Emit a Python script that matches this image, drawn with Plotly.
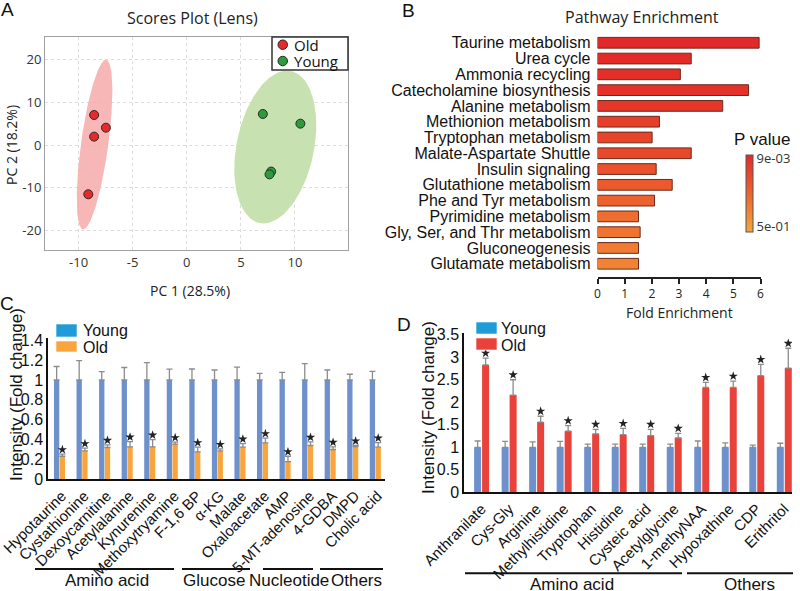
import numpy as np
import plotly.graph_objects as go

W, H = 800, 591
def px(x): return x / W
def py(y): return 1 - y / H

SANS = "Liberation Sans, Arial, sans-serif"
OPEN = "Open Sans, sans-serif"

# ---------------- Panel A data ----------------
old_pc1 = [-8.56, -7.47, -8.56, -9.1]
old_pc2 = [7.0, 4.04, 1.95, -11.5]
young_pc1 = [7.03, 10.5, 7.8, 7.65]
young_pc2 = [7.24, 4.98, -6.2, -6.85]
# ellipse parameters: center x, center y, half-width, half-height, shear (dx/dy)
old_ellipse = [-8.52, 0.08, 1.27, 19.78, 0.053]
young_ellipse = [8.18, -0.47, 3.63, 17.83, 0.061]
a_xticks = [-10, -5, 0, 5, 10]
a_xtick_text = ["-10", "-5", "0", "5", "10"]
a_yticks = [-20, -10, 0, 10, 20]
a_ytick_text = ["-20", "-10", "0", "10", "20"]

# ---------------- Panel B data ----------------
pathways = ["Taurine metabolism", "Urea cycle", "Ammonia recycling",
            "Catecholamine biosynthesis", "Alanine metabolism", "Methionion metabolism",
            "Tryptophan metabolism", "Malate-Aspartate Shuttle", "Insulin signaling",
            "Glutathione metabolism", "Phe and Tyr metabolism", "Pyrimidine metabolism",
            "Gly, Ser, and Thr metabolism", "Gluconeogenesis", "Glutamate metabolism"]
fold_enrichment = [5.95, 3.45, 3.05, 5.56, 4.61, 2.28, 2.01, 3.45, 2.16, 2.75, 2.1, 1.51, 1.57, 1.51, 1.51]
p_values = [0.009, 0.010, 0.011, 0.012, 0.014, 0.018, 0.022, 0.026, 0.035, 0.045, 0.06, 0.09, 0.11, 0.14, 0.17]
p_tick_text = ["9e-03", "5e-01"]
p_range = [0.009, 0.5]
fold_ticks = [0, 1, 2, 3, 4, 5, 6]

# ---------------- Panel C data ----------------
c_metabolites = ["Hypotaurine", "Cystathionine", "Dexoycarnitine", "Acetylalanine", "Kynurenine",
                 "Methoxytryamine", "F-1,6 BP", "α-KG", "Malate", "Oxaloacetate", "AMP",
                 "5-MT-adenosine", "4-GDBA", "DMPD", "Cholic acid"]
c_young = [1.0] * 15
c_young_err = [0.135, 0.195, 0.084, 0.125, 0.175, 0.108, 0.11, 0.10, 0.128, 0.067, 0.077, 0.165, 0.10, 0.057, 0.087]
c_old = [0.232, 0.286, 0.32, 0.327, 0.327, 0.354, 0.276, 0.286, 0.323, 0.367, 0.178, 0.34, 0.30, 0.33, 0.323]
c_old_err = [0.021, 0.027, 0.027, 0.053, 0.073, 0.02, 0.047, 0.02, 0.037, 0.047, 0.054, 0.037, 0.027, 0.01, 0.047]
c_yticks = [0, 0.2, 0.4, 0.6, 0.8, 1.0, 1.2, 1.4]
c_ytick_text = ["0", "0.2", "0.4", "0.6", "0.8", "1", "1.2", "1.4"]
c_groups = ["Amino acid", "Glucose", "Nucleotide", "Others"]

# ---------------- Panel D data ----------------
d_metabolites = ["Anthranilate", "Cys-Gly", "Arginine", "Methylhistidine", "Tryptophan", "Histidine",
                 "Cysteic acid", "Acetylglycine", "1-methyNAA", "Hypoxathine", "CDP", "Erithritol"]
d_young = [1.0] * 12
d_young_err = [0.14, 0.13, 0.12, 0.13, 0.07, 0.07, 0.07, 0.07, 0.14, 0.10, 0.05, 0.09]
d_old = [2.83, 2.16, 1.56, 1.36, 1.30, 1.28, 1.26, 1.21, 2.33, 2.33, 2.59, 2.76]
d_old_err = [0.15, 0.34, 0.13, 0.12, 0.10, 0.14, 0.14, 0.10, 0.11, 0.14, 0.25, 0.44]
d_yticks = [0, 0.5, 1, 1.5, 2, 2.5, 3, 3.5]
d_ytick_text = ["0", "0.5", "1", "1.5", "2", "2.5", "3", "3.5"]
d_groups = ["Amino acid", "Others"]

# colors
RED_PT, GREEN_PT = "#E8282A", "#2E9A3C"
YOUNG_BAR, OLD_C, OLD_D = "#6E91CC", "#F8A53D", "#E8423B"
YOUNG_LEG = "#1F9BD7"
ERR = "#8c8c8c"

fig = go.Figure()

# ---- A: ellipses ----
def ellipse(params):
    cx, cy, rx, ry, s = params
    t = np.linspace(0, 2 * np.pi, 200)
    return cx + rx * np.cos(t) + s * ry * np.sin(t), cy + ry * np.sin(t)

ex, ey = ellipse(old_ellipse)
fig.add_trace(go.Scatter(x=ex, y=ey, mode="lines", fill="toself", fillcolor="rgba(246,170,170,0.85)",
                         line=dict(width=0), hoverinfo="skip", xaxis="x", yaxis="y"))
ex, ey = ellipse(young_ellipse)
fig.add_trace(go.Scatter(x=ex, y=ey, mode="lines", fill="toself", fillcolor="rgba(196,224,172,0.95)",
                         line=dict(width=0), hoverinfo="skip", xaxis="x", yaxis="y"))
fig.add_trace(go.Scatter(x=old_pc1, y=old_pc2, mode="markers", name="Old",
                         marker=dict(size=9, color=RED_PT, line=dict(color="#2a2a2a", width=1)),
                         xaxis="x", yaxis="y"))
fig.add_trace(go.Scatter(x=young_pc1, y=young_pc2, mode="markers", name="Young",
                         marker=dict(size=9, color=GREEN_PT, line=dict(color="#2a2a2a", width=1)),
                         xaxis="x", yaxis="y"))

# ---- B: pathway enrichment ----
logp = -np.log10(np.array(p_values))
cmin, cmax = -np.log10(p_range[1]), -np.log10(p_range[0])
span = cmax - cmin
fig.add_trace(go.Bar(
    x=fold_enrichment, y=list(range(len(pathways))), orientation="h", width=0.68,
    marker=dict(color=logp, cmin=cmin, cmax=cmax,
                colorscale=[[0, "#F7A53C"], [0.45, "#EE6A2E"], [0.75, "#E8472B"], [1, "#E2292A"]],
                line=dict(color="#6a2a1c", width=1),
                showscale=True,
                colorbar=dict(thickness=7, thicknessmode="pixels", len=77, lenmode="pixels",
                              x=px(746), xanchor="left", y=py(155), yanchor="top",
                              xpad=0, ypad=0, outlinecolor="#555", outlinewidth=1,
                              tickvals=[cmax - 0.05 * span, cmin + 0.07 * span], ticktext=p_tick_text,
                              ticks="", tickfont=dict(family=OPEN, size=13, color="#333"))),
    hoverinfo="skip", xaxis="x2", yaxis="y2"))

# ---- C: bars ----
xc = np.arange(len(c_metabolites))
fig.add_trace(go.Bar(x=xc, y=c_young, width=0.235, offset=-0.245, marker=dict(color=YOUNG_BAR, line=dict(width=0)),
                     error_y=dict(type="data", array=c_young_err, arrayminus=[0] * 15, symmetric=False,
                                  color=ERR, thickness=1.3, width=3),
                     xaxis="x3", yaxis="y3"))
fig.add_trace(go.Bar(x=xc, y=c_old, width=0.235, offset=0.01, marker=dict(color=OLD_C, line=dict(width=0)),
                     error_y=dict(type="data", array=c_old_err, arrayminus=[0] * 15, symmetric=False,
                                  color=ERR, thickness=1.3, width=3),
                     xaxis="x3", yaxis="y3"))
fig.add_trace(go.Scatter(x=xc + 0.1275, y=np.array(c_old) + np.array(c_old_err) + 0.045, mode="markers",
                         marker=dict(symbol="star", size=7, color="#222"),
                         hoverinfo="skip", xaxis="x3", yaxis="y3"))

# ---- D: bars ----
xd = np.arange(len(d_metabolites))
fig.add_trace(go.Bar(x=xd, y=d_young, width=0.255, offset=-0.2725, marker=dict(color=YOUNG_BAR, line=dict(width=0)),
                     error_y=dict(type="data", array=d_young_err, arrayminus=[0] * 12, symmetric=False,
                                  color=ERR, thickness=1.3, width=3),
                     xaxis="x4", yaxis="y4"))
fig.add_trace(go.Bar(x=xd, y=d_old, width=0.255, offset=0.0175, marker=dict(color=OLD_D, line=dict(width=0)),
                     error_y=dict(type="data", array=d_old_err, arrayminus=[0] * 12, symmetric=False,
                                  color=ERR, thickness=1.3, width=3),
                     xaxis="x4", yaxis="y4"))
fig.add_trace(go.Scatter(x=xd + 0.145, y=np.array(d_old) + np.array(d_old_err) + 0.11, mode="markers",
                         marker=dict(symbol="star", size=7, color="#222"),
                         hoverinfo="skip", xaxis="x4", yaxis="y4"))

# ---- axes ----
common = dict(automargin=False, showgrid=False, zeroline=False)
fig.update_layout(
    width=W, height=H, margin=dict(l=0, r=0, t=0, b=0, pad=0, autoexpand=False),
    paper_bgcolor="white", plot_bgcolor="white", barmode="overlay", showlegend=False,
    xaxis=dict(domain=[px(45), px(348)], range=[-13.1, 14.9], anchor="y", automargin=False,
               tickvals=a_xticks, ticktext=a_xtick_text, showgrid=True, gridcolor="#dcdcdc", griddash="dot",
               zeroline=False, showline=True, mirror=True, linecolor="#a0a0a0", linewidth=1,
               ticks="", tickfont=dict(family=OPEN, size=13, color="#333")),
    yaxis=dict(domain=[py(250), py(37)], range=[-24.5, 25.2], anchor="x", automargin=False,
               tickvals=a_yticks, ticktext=a_ytick_text, showgrid=True, gridcolor="#dcdcdc", griddash="dot",
               zeroline=False, showline=True, mirror=True, linecolor="#a0a0a0", linewidth=1,
               ticks="", tickfont=dict(family=OPEN, size=13, color="#333")),
    xaxis2=dict(domain=[px(597.5), px(760.5)], range=[0, 6], anchor="y2", **common,
                tickvals=fold_ticks, showline=True,
                linecolor="#222", linewidth=1.5, ticks="outside", ticklen=5, tickwidth=1.5, tickcolor="#222",
                tickfont=dict(family=OPEN, size=12, color="#222")),
    yaxis2=dict(domain=[py(277), py(33.3)], range=[14.84, -0.6], anchor="x2", **common,
                tickvals=list(range(len(pathways))), ticktext=pathways,
                showline=False, ticks="", ticklabelstandoff=6,
                tickfont=dict(family=SANS, size=16, color="#111")),
    xaxis3=dict(domain=[px(48), px(385)], range=[-0.51, 14.43], anchor="y3", **common,
                tickvals=list(xc + 0.1), ticktext=c_metabolites, tickangle=-45, ticklabeloverflow="allow",
                showline=True, linecolor="#111", linewidth=2, ticks="",
                tickfont=dict(family=SANS, size=15, color="#111")),
    yaxis3=dict(domain=[py(479.3), py(338.2)], range=[0, 1.42], anchor="x3", **common,
                tickvals=c_yticks, ticktext=c_ytick_text,
                showline=True, linecolor="#111", linewidth=1.5, ticks="",
                tickfont=dict(family=SANS, size=16, color="#111")),
    xaxis4=dict(domain=[px(464), px(792)], range=[-0.64, 11.28], anchor="y4", **common,
                tickvals=list(xd), ticktext=d_metabolites, tickangle=-45, ticklabeloverflow="allow",
                showline=True, linecolor="#111", linewidth=2, ticks="",
                tickfont=dict(family=SANS, size=15, color="#111")),
    yaxis4=dict(domain=[py(492.3), py(333.4)], range=[0, 3.53], anchor="x4", **common,
                tickvals=d_yticks, ticktext=d_ytick_text,
                showline=True, linecolor="#111", linewidth=1.5, ticks="",
                tickfont=dict(family=SANS, size=16, color="#111")),
)

ann = []
def text(x, y, s, size, family=SANS, angle=0, xanchor="center", color="#111"):
    ann.append(dict(x=px(x), y=py(y), xref="paper", yref="paper", text=s, showarrow=False,
                    xanchor=xanchor, yanchor="middle", textangle=angle,
                    font=dict(family=family, size=size, color=color)))

shapes = []
def rect(x0, y0, x1, y1, fill, line):
    shapes.append(dict(type="rect", xref="paper", yref="paper", x0=px(x0), x1=px(x1), y0=py(y1), y1=py(y0),
                       fillcolor=fill, line=line))

# panel letters
text(7, 9, "A", 19)
text(408, 11, "B", 19)
text(7, 304, "C", 19)
text(404, 324, "D", 19)
# titles
text(192, 18, "Scores Plot (Lens)", 16, OPEN, color="#222")
text(190, 290, "PC 1 (28.5%)", 14, OPEN, color="#222")
text(11, 145, "PC 2 (18.2%)", 14, OPEN, angle=-90, color="#222")
text(642, 17, "Pathway Enrichment", 16, OPEN, color="#222")
text(679, 312, "Fold Enrichment", 14, OPEN, color="#222")
text(762, 140, "P value", 17, SANS)
text(16, 395, "Intensity (Fold change)", 17, SANS, angle=-90)
text(428, 408, "Intensity (Fold change)", 17, SANS, angle=-90)

# legend A (boxed)
rect(272, 37, 348, 70, "white", dict(color="#333", width=1.5))
for cy, col, lab in [(44.7, RED_PT, "Old"), (61, GREEN_PT, "Young")]:
    shapes.append(dict(type="circle", xref="paper", yref="paper", x0=px(278), x1=px(287.5),
                       y0=py(cy + 4.75), y1=py(cy - 4.75), fillcolor=col, line=dict(color="#2a2a2a", width=1)))
    text(292, cy, lab, 15, OPEN, xanchor="left")

# custom legends C and D
sw_line = dict(color="rgba(255,255,255,0.6)", width=1)
rect(56, 324, 77, 337, YOUNG_LEG, sw_line)
rect(56, 341, 77, 352, OLD_C, sw_line)
text(81, 330, "Young", 16, xanchor="left")
text(81, 347, "Old", 16, xanchor="left")
rect(476, 322, 497, 334, YOUNG_LEG, sw_line)
rect(476, 338, 497, 350, OLD_D, sw_line)
text(499, 328, "Young", 16, xanchor="left")
text(499, 345, "Old", 16, xanchor="left")

# group lines
def gline(x0, x1, y):
    shapes.append(dict(type="line", xref="paper", yref="paper", x0=px(x0), x1=px(x1), y0=py(y), y1=py(y),
                       line=dict(color="#111", width=2)))
c_spans = [(35, 174), (182, 250), (263, 313), (320, 383)]
c_label_x = [107, 214, 289, 356]
for (a, b), lx, g in zip(c_spans, c_label_x, c_groups):
    gline(a, b, 569)
    text(lx, 580, g, 17)
d_spans = [(465, 682), (687, 793)]
d_label_x = [572, 749]
for (a, b), lx, g in zip(d_spans, d_label_x, d_groups):
    gline(a, b, 573.3)
    text(lx, 584, g, 17)

fig.update_layout(annotations=ann, shapes=shapes)
fig.write_html("out.html", config={"displayModeBar": False},
               post_script="document.body.style.margin='0';document.body.style.padding='0';")
